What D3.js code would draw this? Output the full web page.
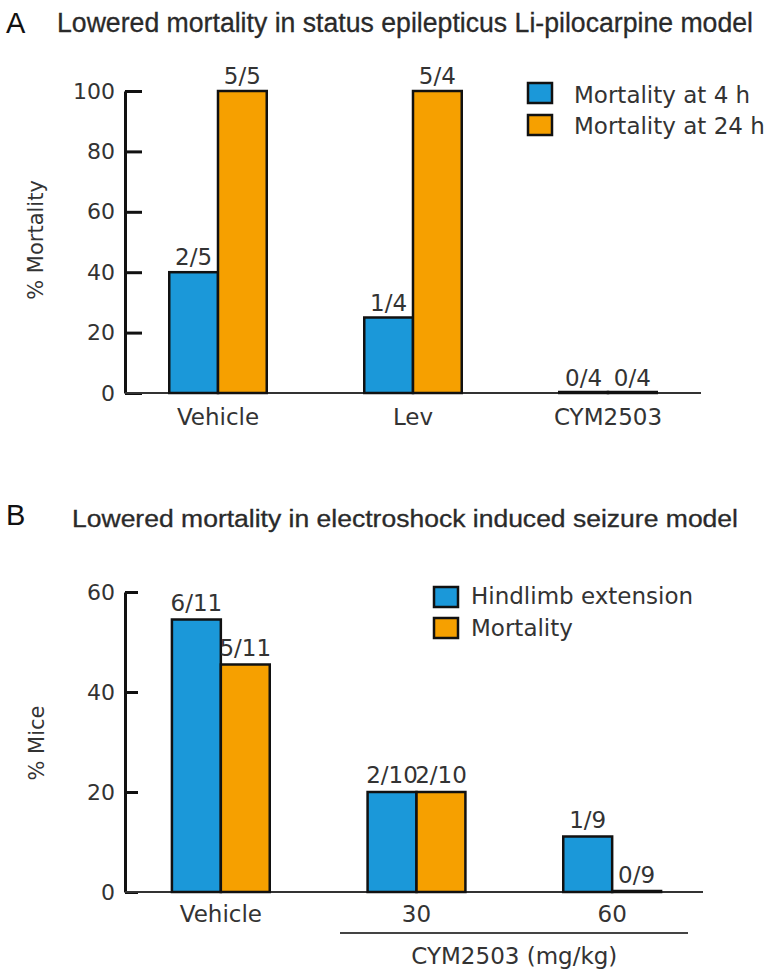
<!DOCTYPE html>
<html>
<head>
<meta charset="utf-8">
<script src="https://cdn.jsdelivr.net/npm/d3@7"></script>
<style>
  html, body { margin: 0; padding: 0; background: #fff; }
  svg { display: block; }
</style>
</head>
<body>
<svg id="chart" width="773" height="978"></svg>
<script>
// ---- Panel A data ----
const catsA = ["Vehicle", "Lev", "CYM2503"];
const seriesA = ["Mortality at 4 h", "Mortality at 24 h"];
const mort4h = [40, 25, 0];
const mort24h = [100, 100, 0];
const labels4h = ["2/5", "1/4", "0/4"];
const labels24h = ["5/5", "5/4", "0/4"];
const ticksA = [0, 20, 40, 60, 80, 100];

// ---- Panel B data ----
const catsB = ["Vehicle", "30", "60"];
const seriesB = ["Hindlimb extension", "Mortality"];
const hindlimb = [54.5, 20, 11.1];
const mortB = [45.5, 20, 0];
const labelsHind = ["6/11", "2/10", "1/9"];
const labelsMortB = ["5/11", "2/10", "0/9"];
const ticksB = [0, 20, 40, 60];

const COLORS = ["#1b98d9", "#f6a000"];
const FONT = "'DejaVu Sans', Verdana, sans-serif";
const TFONT = "'Liberation Sans Narrow', 'Liberation Sans', Arial, sans-serif";
const TEXT = "#333";

const svg = d3.select("#chart");

function panel(cfg) {
  const g = svg.append("g");
  const x0 = d3.scaleBand().domain(cfg.cats).range(cfg.xRange).paddingInner(0.5).paddingOuter(0.25);
  const x1 = d3.scaleBand().domain([0, 1]).range([0, x0.bandwidth()]);
  const y = d3.scaleLinear().domain([0, cfg.yMax]).range(cfg.yRange);

  // panel letter + title
  g.append("text").attr("x", 6).attr("y", cfg.letterY).text(cfg.letter)
    .attr("font-family", TFONT).attr("font-size", cfg.letterSize).attr("fill", "#111");
  g.append("text").attr("x", cfg.titleX0).attr("y", cfg.titleY).text(cfg.title)
    .attr("font-family", TFONT).attr("font-size", cfg.titleSize).attr("fill", "#2a2a2a")
    .attr("stroke", "#2a2a2a").attr("stroke-width", 0.3)
    .attr("textLength", cfg.titleX1 - cfg.titleX0).attr("lengthAdjust", "spacingAndGlyphs");

  // y axis
  const yAxis = d3.axisLeft(y).tickValues(cfg.ticks).tickSizeInner(-cfg.tickLen).tickSizeOuter(0).tickPadding(10);
  const ya = g.append("g").attr("transform", `translate(${cfg.axisX},0)`).call(yAxis);
  ya.select(".domain").attr("stroke", "#111").attr("stroke-width", 3);
  ya.selectAll(".tick line").attr("stroke", "#111").attr("stroke-width", 3);
  ya.selectAll(".tick text").attr("font-family", FONT).attr("font-size", 22).attr("fill", TEXT);

  // y label
  g.append("text").attr("transform", `translate(${cfg.yLabelX},${cfg.yLabelY}) rotate(-90)`)
    .attr("text-anchor", "middle").attr("dominant-baseline", "central")
    .attr("font-family", FONT).attr("font-size", 21).attr("fill", TEXT).text(cfg.yLabel);

  // baseline
  g.append("line").attr("x1", cfg.axisX).attr("x2", cfg.baseEnd)
    .attr("y1", y(0)).attr("y2", y(0)).attr("stroke", "#333").attr("stroke-width", 2.2);

  // x category labels
  const xAxis = d3.axisBottom(x0).tickSize(0).tickPadding(cfg.catPad);
  const xa = g.append("g").attr("transform", `translate(0,${y(0)})`).call(xAxis);
  xa.select(".domain").remove();
  xa.selectAll(".tick text").attr("font-family", FONT).attr("font-size", 23).attr("fill", TEXT);

  // bars
  const series = [cfg.s0, cfg.s1];
  const labs = [cfg.l0, cfg.l1];
  series.forEach((vals, si) => {
    g.append("g").selectAll("rect").data(cfg.cats).join("rect")
      .attr("x", (c) => x0(c) + x1(si))
      .attr("y", (c, i) => Math.min(y(vals[i]), y(0) - 1))
      .attr("width", x1.bandwidth())
      .attr("height", (c, i) => Math.max(y(0) - y(vals[i]), 1))
      .attr("fill", COLORS[si])
      .attr("stroke", "#111").attr("stroke-width", 2.5);
    g.append("g").selectAll("text").data(cfg.cats).join("text")
      .attr("x", (c) => x0(c) + x1(si) + x1.bandwidth() / 2)
      .attr("y", (c, i) => y(vals[i]) - cfg.labGap)
      .attr("text-anchor", "middle")
      .attr("font-family", FONT).attr("font-size", 23).attr("fill", TEXT)
      .text((c, i) => labs[si][i]);
  });

  // legend
  cfg.names.forEach((n, i) => {
    g.append("rect").attr("x", cfg.legX).attr("y", cfg.legY[i]).attr("width", 24).attr("height", 20)
      .attr("fill", COLORS[i]).attr("stroke", "#111").attr("stroke-width", 2.5);
    g.append("text").attr("x", cfg.legTextX).attr("y", cfg.legBase[i]).text(n)
      .attr("font-family", FONT).attr("font-size", 23).attr("fill", TEXT);
  });
  return { g, x0, y };
}

panel({
  cats: catsA, s0: mort4h, s1: mort24h, l0: labels4h, l1: labels24h,
  names: seriesA, ticks: ticksA, yMax: 100, yRange: [393, 91],
  xRange: [120.5, 705.5], axisX: 125, baseEnd: 701, tickLen: 17,
  letter: "A", letterY: 33, letterSize: 29,
  title: "Lowered mortality in status epilepticus Li-pilocarpine model",
  titleX0: 57, titleX1: 753, titleY: 32, titleSize: 27,
  yLabel: "% Mortality", yLabelX: 36, yLabelY: 240,
  catPad: 16, labGap: 7,
  legX: 528, legY: [83, 115], legTextX: 574, legBase: [103, 134]
});

const pB = panel({
  cats: catsB, s0: hindlimb, s1: mortB, l0: labelsHind, l1: labelsMortB,
  names: seriesB, ticks: ticksB, yMax: 60, yRange: [892, 592],
  xRange: [123, 710], axisX: 125, baseEnd: 703, tickLen: 13,
  letter: "B", letterY: 525, letterSize: 29,
  title: "Lowered mortality in electroshock induced seizure model",
  titleX0: 72, titleX1: 738, titleY: 527, titleSize: 23,
  yLabel: "% Mice", yLabelX: 37, yLabelY: 743,
  catPad: 14, labGap: 9,
  legX: 434, legY: [587, 618], legTextX: 471, legBase: [604, 636]
});

// CYM2503 dose bracket
pB.g.append("line").attr("x1", 340).attr("x2", 688).attr("y1", 933).attr("y2", 933)
  .attr("stroke", "#444").attr("stroke-width", 2);
pB.g.append("text").attr("x", (pB.x0("30") + pB.x0("60") + pB.x0.bandwidth()) / 2).attr("y", 964)
  .attr("text-anchor", "middle").attr("font-family", FONT).attr("font-size", 23).attr("fill", TEXT)
  .text("CYM2503 (mg/kg)");
</script>
</body>
</html>
